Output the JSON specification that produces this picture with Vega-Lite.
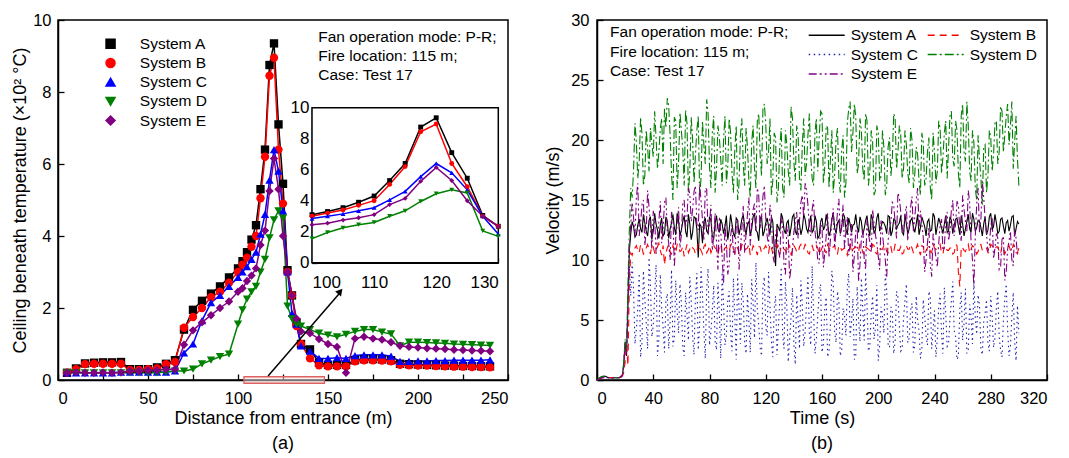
{
"$schema": "https://vega.github.io/schema/vega-lite/v6.json",
"background": "white",
"padding": {"left": 10, "top": 11, "right": 5, "bottom": 5},
"config": {
  "font": "Liberation Sans",
  "view": {"stroke": "black", "strokeWidth": 1.5},
  "axis": {"domainColor": "black", "domainWidth": 1.5, "tickColor": "black", "tickWidth": 1.3, "labelColor": "black", "titleColor": "black", "labelFontSize": 16.5, "titleFontSize": 18, "titleFontWeight": "normal", "grid": false, "labelFont": "Liberation Sans", "titleFont": "Liberation Sans", "labelOverlap": false},
  "legend": {"padding": 0, "labelFont": "Liberation Sans", "labelColor": "black"},
  "title": {"fontSize": 18, "fontWeight": "normal", "color": "black", "font": "Liberation Sans"}
},
"datasets": {
  "temp": [
    {"d":5,"A":0.2,"B":0.2,"C":0.2,"D":0.2,"E":0.2},
    {"d":10,"A":0.32,"B":0.3,"C":0.2,"D":0.2,"E":0.22},
    {"d":15,"A":0.46,"B":0.44,"C":0.2,"D":0.2,"E":0.2},
    {"d":20,"A":0.48,"B":0.45,"C":0.2,"D":0.2,"E":0.2},
    {"d":25,"A":0.49,"B":0.45,"C":0.2,"D":0.2,"E":0.21},
    {"d":30,"A":0.49,"B":0.45,"C":0.2,"D":0.2,"E":0.2},
    {"d":35,"A":0.5,"B":0.45,"C":0.22,"D":0.2,"E":0.21},
    {"d":40,"A":0.3,"B":0.28,"C":0.22,"D":0.2,"E":0.25},
    {"d":45,"A":0.3,"B":0.28,"C":0.22,"D":0.2,"E":0.25},
    {"d":50,"A":0.3,"B":0.3,"C":0.22,"D":0.2,"E":0.27},
    {"d":55,"A":0.35,"B":0.32,"C":0.22,"D":0.2,"E":0.27},
    {"d":60,"A":0.45,"B":0.44,"C":0.22,"D":0.22,"E":0.3},
    {"d":65,"A":0.55,"B":0.5,"C":0.25,"D":0.25,"E":0.3},
    {"d":70,"A":1.4,"B":1.45,"C":0.75,"D":0.25,"E":0.98},
    {"d":75,"A":1.95,"B":1.75,"C":1.0,"D":0.3,"E":1.38},
    {"d":80,"A":2.2,"B":2.0,"C":1.65,"D":0.45,"E":1.6},
    {"d":85,"A":2.4,"B":2.3,"C":2.15,"D":0.55,"E":1.8},
    {"d":90,"A":2.6,"B":2.45,"C":2.35,"D":0.65,"E":2.0},
    {"d":95,"A":2.85,"B":2.7,"C":2.6,"D":0.72,"E":2.18},
    {"d":100,"A":3.1,"B":3.0,"C":2.85,"D":1.55,"E":2.45},
    {"d":102.5,"A":3.3,"B":3.2,"C":3.0,"D":1.95,"E":2.55},
    {"d":105,"A":3.55,"B":3.4,"C":3.15,"D":2.25,"E":2.75},
    {"d":107.5,"A":3.9,"B":3.7,"C":3.35,"D":2.45,"E":2.9},
    {"d":110,"A":4.3,"B":4.0,"C":3.55,"D":2.6,"E":3.1},
    {"d":112.5,"A":5.3,"B":5.05,"C":4.05,"D":3.0,"E":3.75},
    {"d":115,"A":6.4,"B":6.2,"C":4.6,"D":3.35,"E":4.15},
    {"d":117.5,"A":8.75,"B":8.45,"C":5.55,"D":3.95,"E":5.25},
    {"d":120,"A":9.35,"B":8.95,"C":6.4,"D":4.45,"E":6.15},
    {"d":122.5,"A":7.1,"B":6.4,"C":5.8,"D":4.7,"E":5.3},
    {"d":125,"A":5.45,"B":4.9,"C":4.7,"D":4.5,"E":4.0},
    {"d":127.5,"A":3.05,"B":3.0,"C":3.0,"D":2.05,"E":3.0},
    {"d":130,"A":2.35,"B":2.35,"C":1.85,"D":1.7,"E":2.35},
    {"d":132.5,"A":1.6,"B":1.5,"C":1.55,"D":1.55,"E":1.7},
    {"d":135,"A":1.0,"B":1.0,"C":0.95,"D":1.5,"E":1.35},
    {"d":140,"A":0.85,"B":0.6,"C":0.8,"D":1.4,"E":1.3},
    {"d":145,"A":0.48,"B":0.41,"C":0.6,"D":1.3,"E":1.14},
    {"d":150,"A":0.42,"B":0.38,"C":0.6,"D":1.25,"E":1.0},
    {"d":155,"A":0.42,"B":0.38,"C":0.62,"D":1.2,"E":0.92},
    {"d":160,"A":0.42,"B":0.38,"C":0.6,"D":1.27,"E":0.2},
    {"d":165,"A":0.55,"B":0.52,"C":0.68,"D":1.35,"E":1.15},
    {"d":170,"A":0.58,"B":0.55,"C":0.7,"D":1.4,"E":1.2},
    {"d":175,"A":0.58,"B":0.55,"C":0.7,"D":1.4,"E":1.15},
    {"d":180,"A":0.57,"B":0.54,"C":0.7,"D":1.33,"E":1.12},
    {"d":185,"A":0.55,"B":0.52,"C":0.66,"D":1.28,"E":1.05},
    {"d":190,"A":0.45,"B":0.42,"C":0.52,"D":0.95,"E":0.95},
    {"d":195,"A":0.44,"B":0.41,"C":0.52,"D":1.05,"E":0.92},
    {"d":200,"A":0.43,"B":0.4,"C":0.53,"D":1.05,"E":0.9},
    {"d":205,"A":0.42,"B":0.4,"C":0.53,"D":1.04,"E":0.88},
    {"d":210,"A":0.41,"B":0.39,"C":0.54,"D":1.03,"E":0.87},
    {"d":215,"A":0.4,"B":0.38,"C":0.54,"D":1.02,"E":0.86},
    {"d":220,"A":0.4,"B":0.37,"C":0.55,"D":1.0,"E":0.84},
    {"d":225,"A":0.39,"B":0.37,"C":0.55,"D":0.99,"E":0.83},
    {"d":230,"A":0.39,"B":0.36,"C":0.55,"D":0.98,"E":0.82},
    {"d":235,"A":0.38,"B":0.36,"C":0.55,"D":0.97,"E":0.81},
    {"d":240,"A":0.38,"B":0.35,"C":0.56,"D":0.96,"E":0.8}
  ],
  "vel": [
    {"t":0,"A":0,"B":0,"C":0,"D":0,"E":0},
    {"t":2,"A":0.2,"B":0.1,"C":0.1,"D":0.2,"E":0.1},
    {"t":4,"A":0.3,"B":0.2,"C":0.2,"D":0.3,"E":0.2},
    {"t":6,"A":0.3,"B":0.3,"C":0.2,"D":0.3,"E":0.2},
    {"t":8,"A":0.2,"B":0.2,"C":0.2,"D":0.2,"E":0.2},
    {"t":10,"A":0.2,"B":0.2,"C":0.1,"D":0.2,"E":0.2},
    {"t":12,"A":0.2,"B":0.2,"C":0.2,"D":0.2,"E":0.2},
    {"t":14,"A":0.2,"B":0.2,"C":0.2,"D":0.2,"E":0.2},
    {"t":16,"A":0.2,"B":0.2,"C":0.2,"D":0.2,"E":0.2},
    {"t":18,"A":0.4,"B":0.3,"C":0.3,"D":0.4,"E":0.4},
    {"t":19,"A":1.2,"B":0.6,"C":1.0,"D":1.5,"E":1.2},
    {"t":20,"A":3.2,"B":1.5,"C":2.8,"D":3.4,"E":3.0},
    {"t":21,"A":2.0,"B":3.0,"C":2.4,"D":2.6,"E":2.2},
    {"t":22,"A":6.5,"B":1.2,"C":5.5,"D":8.0,"E":6.0},
    {"t":23,"A":10.8,"B":8.0,"C":9.5,"D":12.5,"E":11.0},
    {"t":24,"A":12.2,"B":10.6,"C":7.0,"D":16.0,"E":13.0},
    {"t":26,"A":12.8,"B":10.9,"C":7.5,"D":17.5,"E":13.5},
    {"t":28,"A":12.1,"B":11.2,"C":4.2,"D":19.8,"E":15.2},
    {"t":30,"A":13.4,"B":10.6,"C":8.9,"D":18.2,"E":12.0},
    {"t":32,"A":12.3,"B":11.0,"C":3.1,"D":20.5,"E":14.6},
    {"t":34,"A":13.1,"B":10.7,"C":6.8,"D":17.0,"E":11.2},
    {"t":36,"A":12.0,"B":11.3,"C":2.6,"D":19.4,"E":15.8},
    {"t":38,"A":13.6,"B":10.5,"C":7.9,"D":21.0,"E":12.8},
    {"t":40,"A":12.4,"B":11.1,"C":4.5,"D":18.6,"E":14.1},
    {"t":42,"A":13.0,"B":10.8,"C":9.6,"D":20.2,"E":10.5},
    {"t":44,"A":11.8,"B":11.4,"C":3.4,"D":19.0,"E":13.2},
    {"t":46,"A":13.5,"B":10.4,"C":6.1,"D":21.8,"E":11.4},
    {"t":48,"A":12.2,"B":9.6,"C":2.3,"D":22.6,"E":14.8},
    {"t":50,"A":13.2,"B":11.0,"C":7.2,"D":23.5,"E":12.3},
    {"t":52,"A":12.6,"B":10.7,"C":4.9,"D":20.4,"E":10.0},
    {"t":54,"A":13.8,"B":11.2,"C":2.8,"D":15.0,"E":13.7},
    {"t":56,"A":12.1,"B":10.6,"C":8.3,"D":21.6,"E":11.8},
    {"t":58,"A":13.3,"B":11.1,"C":3.9,"D":18.0,"E":14.4},
    {"t":60,"A":12.5,"B":10.8,"C":6.4,"D":20.8,"E":12.1},
    {"t":62,"A":13.7,"B":10.3,"C":2.0,"D":16.2,"E":15.0},
    {"t":64,"A":11.9,"B":11.3,"C":5.5,"D":21.4,"E":13.6},
    {"t":66,"A":13.0,"B":10.9,"C":8.6,"D":17.4,"E":15.5},
    {"t":68,"A":12.3,"B":11.0,"C":3.6,"D":20.0,"E":14.2},
    {"t":70,"A":13.5,"B":10.5,"C":6.9,"D":18.8,"E":16.2},
    {"t":72,"A":10.2,"B":11.4,"C":2.5,"D":22.0,"E":12.5},
    {"t":74,"A":12.8,"B":10.8,"C":9.4,"D":16.8,"E":14.9},
    {"t":76,"A":13.2,"B":11.1,"C":4.1,"D":19.6,"E":11.6},
    {"t":78,"A":12.4,"B":10.6,"C":7.6,"D":23.4,"E":15.9},
    {"t":80,"A":13.6,"B":11.2,"C":2.9,"D":17.8,"E":13.0},
    {"t":82,"A":12.0,"B":10.9,"C":5.8,"D":20.6,"E":10.8},
    {"t":84,"A":13.1,"B":11.0,"C":3.2,"D":15.6,"E":13.9},
    {"t":86,"A":12.6,"B":10.4,"C":8.1,"D":21.2,"E":9.2},
    {"t":88,"A":13.4,"B":11.3,"C":1.8,"D":18.4,"E":12.4},
    {"t":90,"A":12.2,"B":10.7,"C":6.3,"D":20.0,"E":8.0},
    {"t":92,"A":13.7,"B":11.1,"C":3.7,"D":16.4,"E":11.5},
    {"t":94,"A":12.5,"B":10.8,"C":7.4,"D":21.8,"E":9.6},
    {"t":96,"A":13.0,"B":11.4,"C":2.4,"D":17.2,"E":12.9},
    {"t":98,"A":11.9,"B":10.6,"C":5.2,"D":19.2,"E":10.4},
    {"t":100,"A":13.3,"B":11.0,"C":8.8,"D":15.0,"E":13.4},
    {"t":102,"A":12.7,"B":10.5,"C":3.0,"D":20.4,"E":11.0},
    {"t":104,"A":13.8,"B":11.2,"C":6.6,"D":18.0,"E":14.5},
    {"t":106,"A":12.1,"B":10.9,"C":2.2,"D":21.0,"E":12.2},
    {"t":108,"A":13.2,"B":11.3,"C":5.0,"D":16.6,"E":15.2},
    {"t":110,"A":12.6,"B":10.7,"C":8.4,"D":19.8,"E":13.1},
    {"t":112,"A":13.9,"B":11.0,"C":3.5,"D":17.6,"E":14.7},
    {"t":114,"A":12.3,"B":10.4,"C":6.0,"D":21.6,"E":16.0},
    {"t":116,"A":13.4,"B":11.1,"C":2.7,"D":18.8,"E":12.6},
    {"t":118,"A":12.0,"B":10.8,"C":7.8,"D":22.6,"E":15.3},
    {"t":120,"A":13.1,"B":11.2,"C":4.4,"D":21.4,"E":13.5},
    {"t":122,"A":12.8,"B":10.6,"C":9.0,"D":19.0,"E":11.2},
    {"t":124,"A":13.6,"B":11.0,"C":3.3,"D":15.4,"E":13.8},
    {"t":126,"A":11.0,"B":10.9,"C":5.9,"D":20.6,"E":9.8},
    {"t":128,"A":13.0,"B":11.3,"C":2.1,"D":14.8,"E":12.7},
    {"t":130,"A":12.4,"B":10.5,"C":6.7,"D":19.4,"E":10.2},
    {"t":132,"A":13.5,"B":11.1,"C":3.8,"D":16.0,"E":12.9},
    {"t":134,"A":12.2,"B":10.8,"C":8.2,"D":20.8,"E":8.8},
    {"t":136,"A":13.3,"B":11.0,"C":1.5,"D":17.4,"E":11.9},
    {"t":138,"A":12.7,"B":10.4,"C":5.3,"D":22.8,"E":9.4},
    {"t":140,"A":13.8,"B":11.2,"C":3.0,"D":18.2,"E":12.3},
    {"t":142,"A":12.1,"B":10.7,"C":7.1,"D":21.2,"E":14.0},
    {"t":144,"A":13.0,"B":11.1,"C":2.6,"D":16.8,"E":13.3},
    {"t":146,"A":12.6,"B":10.9,"C":6.2,"D":19.6,"E":15.4},
    {"t":148,"A":13.4,"B":11.3,"C":4.0,"D":17.0,"E":16.4},
    {"t":150,"A":12.3,"B":10.6,"C":8.7,"D":20.4,"E":14.6},
    {"t":152,"A":13.7,"B":11.0,"C":2.9,"D":18.6,"E":12.0},
    {"t":154,"A":12.5,"B":10.8,"C":5.6,"D":16.2,"E":15.0},
    {"t":156,"A":13.2,"B":11.2,"C":3.4,"D":21.8,"E":11.4},
    {"t":158,"A":12.0,"B":10.5,"C":7.3,"D":20.2,"E":9.7},
    {"t":160,"A":13.5,"B":11.0,"C":2.3,"D":22.2,"E":12.8},
    {"t":162,"A":12.8,"B":10.7,"C":6.0,"D":17.8,"E":10.6},
    {"t":164,"A":13.1,"B":11.3,"C":1.9,"D":21.0,"E":13.9},
    {"t":166,"A":12.4,"B":10.9,"C":4.7,"D":18.4,"E":11.7},
    {"t":168,"A":13.9,"B":11.1,"C":8.0,"D":15.6,"E":14.3},
    {"t":170,"A":12.2,"B":10.6,"C":3.1,"D":20.0,"E":12.5},
    {"t":172,"A":13.3,"B":11.2,"C":6.5,"D":16.8,"E":15.1},
    {"t":174,"A":12.7,"B":10.8,"C":2.5,"D":19.2,"E":13.0},
    {"t":176,"A":13.6,"B":11.0,"C":5.4,"D":15.2,"E":10.9},
    {"t":178,"A":12.1,"B":10.4,"C":7.7,"D":21.4,"E":13.6},
    {"t":180,"A":13.0,"B":11.3,"C":3.6,"D":23.2,"E":11.3},
    {"t":182,"A":12.9,"B":10.9,"C":6.8,"D":20.6,"E":9.0},
    {"t":184,"A":13.8,"B":11.1,"C":2.0,"D":22.0,"E":12.4},
    {"t":186,"A":12.3,"B":10.7,"C":5.1,"D":18.0,"E":8.2},
    {"t":188,"A":13.2,"B":11.2,"C":8.5,"D":20.8,"E":11.8},
    {"t":190,"A":12.6,"B":10.5,"C":3.3,"D":16.6,"E":10.1},
    {"t":192,"A":13.7,"B":11.0,"C":6.3,"D":21.6,"E":13.4},
    {"t":194,"A":12.0,"B":10.8,"C":2.8,"D":17.4,"E":11.5},
    {"t":196,"A":13.4,"B":11.3,"C":7.0,"D":19.8,"E":14.2},
    {"t":198,"A":12.5,"B":10.6,"C":4.3,"D":15.8,"E":12.1},
    {"t":200,"A":13.9,"B":11.1,"C":1.6,"D":20.6,"E":10.3},
    {"t":202,"A":12.8,"B":10.9,"C":6.1,"D":17.0,"E":13.3},
    {"t":204,"A":13.1,"B":11.2,"C":3.9,"D":19.4,"E":11.0},
    {"t":206,"A":12.2,"B":10.7,"C":7.5,"D":16.2,"E":8.5},
    {"t":208,"A":13.6,"B":11.0,"C":2.7,"D":20.2,"E":12.6},
    {"t":210,"A":12.4,"B":10.5,"C":5.7,"D":18.4,"E":14.8},
    {"t":212,"A":13.3,"B":11.3,"C":3.2,"D":21.8,"E":13.1},
    {"t":214,"A":12.9,"B":10.8,"C":6.9,"D":19.0,"E":15.6},
    {"t":216,"A":13.7,"B":11.1,"C":2.4,"D":20.4,"E":14.0},
    {"t":218,"A":12.1,"B":10.6,"C":5.2,"D":17.6,"E":12.2},
    {"t":220,"A":13.0,"B":11.2,"C":8.0,"D":19.6,"E":14.5},
    {"t":222,"A":12.6,"B":10.9,"C":3.5,"D":16.4,"E":12.8},
    {"t":224,"A":13.5,"B":11.0,"C":6.4,"D":20.0,"E":15.3},
    {"t":226,"A":12.3,"B":10.7,"C":2.9,"D":17.2,"E":13.6},
    {"t":228,"A":13.8,"B":11.3,"C":5.0,"D":18.8,"E":16.0},
    {"t":230,"A":12.7,"B":10.4,"C":1.8,"D":15.4,"E":14.1},
    {"t":232,"A":13.2,"B":11.1,"C":6.7,"D":19.8,"E":11.9},
    {"t":234,"A":12.0,"B":10.8,"C":3.7,"D":16.8,"E":10.0},
    {"t":236,"A":13.4,"B":11.2,"C":7.4,"D":20.2,"E":12.7},
    {"t":238,"A":12.5,"B":10.6,"C":2.6,"D":15.0,"E":8.6},
    {"t":240,"A":13.6,"B":11.0,"C":5.8,"D":19.0,"E":11.2},
    {"t":242,"A":12.8,"B":10.9,"C":3.4,"D":17.4,"E":9.4},
    {"t":244,"A":13.1,"B":11.3,"C":7.2,"D":21.0,"E":12.9},
    {"t":246,"A":12.2,"B":10.5,"C":2.2,"D":18.6,"E":10.8},
    {"t":248,"A":13.7,"B":11.1,"C":5.5,"D":21.6,"E":13.5},
    {"t":250,"A":12.4,"B":10.8,"C":3.0,"D":19.4,"E":11.6},
    {"t":252,"A":13.3,"B":11.0,"C":6.6,"D":22.4,"E":14.2},
    {"t":254,"A":12.9,"B":10.6,"C":4.1,"D":17.8,"E":12.0},
    {"t":256,"A":13.5,"B":11.2,"C":1.7,"D":20.8,"E":14.9},
    {"t":258,"A":12.1,"B":7.8,"C":5.9,"D":16.0,"E":12.4},
    {"t":260,"A":13.0,"B":11.0,"C":3.3,"D":23.0,"E":15.4},
    {"t":262,"A":12.6,"B":10.7,"C":7.6,"D":18.2,"E":13.2},
    {"t":264,"A":13.8,"B":11.3,"C":2.5,"D":21.2,"E":15.8},
    {"t":266,"A":12.3,"B":10.9,"C":5.3,"D":16.6,"E":11.5},
    {"t":268,"A":13.4,"B":11.1,"C":8.3,"D":19.8,"E":7.8},
    {"t":270,"A":12.7,"B":10.5,"C":3.8,"D":15.0,"E":14.6},
    {"t":272,"A":13.2,"B":11.2,"C":6.2,"D":18.4,"E":12.3},
    {"t":274,"A":12.0,"B":10.8,"C":2.1,"D":14.6,"E":16.6},
    {"t":276,"A":13.6,"B":11.0,"C":5.6,"D":19.6,"E":13.4},
    {"t":278,"A":12.5,"B":10.6,"C":3.1,"D":17.0,"E":10.7},
    {"t":280,"A":13.9,"B":11.3,"C":7.0,"D":20.2,"E":12.8},
    {"t":282,"A":12.8,"B":10.9,"C":2.7,"D":18.8,"E":10.1},
    {"t":284,"A":13.1,"B":11.1,"C":6.0,"D":21.6,"E":12.2},
    {"t":286,"A":12.4,"B":10.7,"C":3.6,"D":19.0,"E":9.2},
    {"t":288,"A":13.5,"B":11.2,"C":1.9,"D":22.4,"E":11.7},
    {"t":290,"A":12.2,"B":10.5,"C":6.8,"D":20.4,"E":8.3},
    {"t":292,"A":13.3,"B":11.0,"C":4.2,"D":23.0,"E":10.9},
    {"t":294,"A":12.9,"B":10.8,"C":2.8,"D":21.2,"E":12.4},
    {"t":296,"A":13.7,"B":11.3,"C":7.3,"D":17.6,"E":9.5},
    {"t":298,"A":12.6,"B":10.6,"C":1.6,"D":22.0,"E":11.8},
    {"t":300,"A":13.0,"B":11.0,"C":3.9,"D":16.2,"E":10.6},
    {"t":25,"A":13.2,"B":10.4,"C":9.8,"D":15.2,"E":14.8},
    {"t":27,"A":11.9,"B":11.0,"C":3.0,"D":21.4,"E":12.0},
    {"t":29,"A":12.9,"B":10.8,"C":6.0,"D":16.8,"E":16.4},
    {"t":31,"A":12.6,"B":11.3,"C":1.9,"D":21.9,"E":13.1},
    {"t":33,"A":13.8,"B":10.5,"C":9.1,"D":16.2,"E":15.0},
    {"t":35,"A":12.4,"B":11.0,"C":4.8,"D":20.8,"E":12.4},
    {"t":37,"A":13.3,"B":10.9,"C":10.2,"D":17.4,"E":14.4},
    {"t":39,"A":11.7,"B":11.2,"C":3.6,"D":19.7,"E":10.9},
    {"t":41,"A":13.9,"B":10.6,"C":7.0,"D":22.4,"E":13.5},
    {"t":43,"A":12.5,"B":11.1,"C":2.0,"D":17.6,"E":11.8},
    {"t":45,"A":12.9,"B":10.8,"C":8.8,"D":20.9,"E":14.9},
    {"t":47,"A":12.0,"B":11.2,"C":4.4,"D":18.0,"E":12.6},
    {"t":49,"A":13.6,"B":10.6,"C":6.5,"D":21.0,"E":15.2},
    {"t":51,"A":11.8,"B":11.3,"C":2.6,"D":22.8,"E":11.4},
    {"t":53,"A":13.1,"B":10.5,"C":9.2,"D":17.2,"E":14.0},
    {"t":55,"A":12.7,"B":10.9,"C":3.5,"D":21.9,"E":9.4},
    {"t":57,"A":13.9,"B":11.3,"C":5.7,"D":16.0,"E":13.0},
    {"t":59,"A":12.0,"B":10.7,"C":8.0,"D":22.3,"E":11.0},
    {"t":61,"A":13.2,"B":11.1,"C":2.7,"D":19.2,"E":14.7},
    {"t":63,"A":12.4,"B":10.8,"C":7.3,"D":22.5,"E":12.8},
    {"t":65,"A":13.8,"B":10.6,"C":3.3,"D":15.6,"E":16.0},
    {"t":67,"A":11.7,"B":11.2,"C":6.6,"D":21.9,"E":13.2},
    {"t":69,"A":13.6,"B":10.9,"C":2.1,"D":16.4,"E":15.7},
    {"t":71,"A":12.6,"B":10.7,"C":8.9,"D":20.8,"E":13.0},
    {"t":73,"A":13.0,"B":11.0,"C":4.6,"D":15.4,"E":16.3},
    {"t":75,"A":11.4,"B":10.5,"C":7.1,"D":21.6,"E":13.4},
    {"t":77,"A":13.5,"B":11.3,"C":1.8,"D":18.0,"E":16.0},
    {"t":79,"A":12.2,"B":10.8,"C":9.3,"D":22.2,"E":12.2},
    {"t":81,"A":13.3,"B":10.6,"C":4.0,"D":16.0,"E":14.6},
    {"t":83,"A":11.8,"B":11.2,"C":7.9,"D":22.0,"E":12.0},
    {"t":85,"A":13.7,"B":10.9,"C":2.5,"D":17.6,"E":11.4},
    {"t":87,"A":12.3,"B":11.1,"C":5.6,"D":20.2,"E":13.6},
    {"t":89,"A":13.0,"B":10.5,"C":9.0,"D":16.2,"E":10.2},
    {"t":91,"A":12.8,"B":11.0,"C":2.9,"D":22.0,"E":13.0},
    {"t":93,"A":11.7,"B":10.7,"C":6.7,"D":17.8,"E":8.8},
    {"t":95,"A":13.8,"B":11.2,"C":3.9,"D":20.6,"E":12.0},
    {"t":97,"A":12.2,"B":10.9,"C":8.5,"D":15.6,"E":10.5},
    {"t":99,"A":13.5,"B":11.1,"C":1.7,"D":21.2,"E":12.8},
    {"t":101,"A":12.1,"B":10.6,"C":5.9,"D":16.4,"E":9.2},
    {"t":103,"A":13.4,"B":11.3,"C":8.1,"D":21.8,"E":12.6},
    {"t":105,"A":12.7,"B":10.8,"C":3.1,"D":16.2,"E":10.6},
    {"t":107,"A":13.0,"B":11.0,"C":7.2,"D":19.4,"E":13.8},
    {"t":109,"A":12.0,"B":10.4,"C":2.3,"D":15.2,"E":11.2},
    {"t":111,"A":13.6,"B":11.2,"C":6.5,"D":21.2,"E":14.2},
    {"t":113,"A":12.5,"B":10.9,"C":9.8,"D":16.0,"E":12.4},
    {"t":115,"A":11.6,"B":11.1,"C":4.6,"D":22.2,"E":15.4},
    {"t":117,"A":13.7,"B":10.6,"C":2.0,"D":17.0,"E":13.6},
    {"t":119,"A":12.4,"B":11.0,"C":8.6,"D":23.0,"E":16.2},
    {"t":121,"A":13.5,"B":10.8,"C":3.7,"D":18.0,"E":12.0},
    {"t":123,"A":12.1,"B":11.3,"C":6.2,"D":21.8,"E":14.6},
    {"t":125,"A":13.2,"B":10.6,"C":1.9,"D":16.6,"E":10.4},
    {"t":127,"A":9.5,"B":11.1,"C":7.0,"D":20.2,"E":12.2},
    {"t":129,"A":12.7,"B":10.7,"C":4.4,"D":16.0,"E":10.8},
    {"t":131,"A":13.9,"B":11.2,"C":9.4,"D":21.0,"E":13.6},
    {"t":133,"A":12.5,"B":10.9,"C":2.6,"D":15.2,"E":9.6},
    {"t":135,"A":13.1,"B":10.5,"C":6.1,"D":19.6,"E":12.8},
    {"t":137,"A":12.0,"B":11.2,"C":3.4,"D":16.2,"E":8.4},
    {"t":139,"A":13.6,"B":10.8,"C":7.7,"D":21.8,"E":11.0},
    {"t":141,"A":12.4,"B":11.0,"C":1.3,"D":16.6,"E":13.2},
    {"t":143,"A":13.4,"B":10.6,"C":5.0,"D":20.4,"E":11.8},
    {"t":145,"A":12.1,"B":11.3,"C":8.3,"D":15.8,"E":14.8},
    {"t":147,"A":13.8,"B":10.9,"C":2.8,"D":21.8,"E":13.4},
    {"t":149,"A":12.6,"B":11.1,"C":6.4,"D":18.0,"E":15.8},
    {"t":151,"A":13.0,"B":10.5,"C":3.9,"D":22.2,"E":12.6},
    {"t":153,"A":12.3,"B":11.2,"C":9.5,"D":16.8,"E":14.2},
    {"t":155,"A":13.7,"B":10.8,"C":2.2,"D":20.6,"E":12.4},
    {"t":157,"A":11.8,"B":11.0,"C":5.4,"D":17.4,"E":10.0},
    {"t":159,"A":13.2,"B":10.7,"C":8.0,"D":22.4,"E":13.2},
    {"t":161,"A":12.5,"B":11.3,"C":3.0,"D":16.4,"E":9.4},
    {"t":163,"A":13.8,"B":10.6,"C":6.9,"D":21.2,"E":12.0},
    {"t":165,"A":12.0,"B":11.0,"C":2.4,"D":16.0,"E":10.2},
    {"t":167,"A":13.4,"B":10.8,"C":9.1,"D":20.8,"E":13.4},
    {"t":169,"A":12.7,"B":11.2,"C":4.0,"D":17.2,"E":11.0},
    {"t":171,"A":13.1,"B":10.5,"C":7.4,"D":21.0,"E":14.0},
    {"t":173,"A":12.2,"B":11.1,"C":2.0,"D":15.6,"E":12.0},
    {"t":175,"A":13.9,"B":10.9,"C":6.0,"D":20.4,"E":14.6},
    {"t":177,"A":12.6,"B":10.7,"C":3.7,"D":16.4,"E":12.4},
    {"t":179,"A":13.5,"B":11.2,"C":8.9,"D":22.6,"E":10.4},
    {"t":181,"A":12.3,"B":10.6,"C":4.8,"D":19.0,"E":13.0},
    {"t":183,"A":13.0,"B":11.0,"C":1.7,"D":23.0,"E":10.4},
    {"t":185,"A":12.8,"B":10.8,"C":7.8,"D":17.2,"E":12.8},
    {"t":187,"A":13.6,"B":11.3,"C":3.2,"D":21.8,"E":9.6},
    {"t":189,"A":12.1,"B":10.6,"C":5.9,"D":17.6,"E":12.6},
    {"t":191,"A":13.3,"B":11.1,"C":9.0,"D":22.2,"E":9.2},
    {"t":193,"A":12.6,"B":10.9,"C":2.4,"D":16.2,"E":12.2},
    {"t":195,"A":13.8,"B":10.7,"C":5.6,"D":20.8,"E":10.6},
    {"t":197,"A":12.2,"B":11.2,"C":3.4,"D":15.4,"E":13.0},
    {"t":199,"A":13.5,"B":10.5,"C":7.9,"D":21.2,"E":11.4},
    {"t":201,"A":12.4,"B":11.0,"C":2.9,"D":16.6,"E":9.2},
    {"t":203,"A":13.2,"B":10.9,"C":5.4,"D":20.8,"E":12.2},
    {"t":205,"A":12.8,"B":11.3,"C":8.8,"D":15.4,"E":10.0},
    {"t":207,"A":13.7,"B":10.6,"C":3.0,"D":19.4,"E":11.6},
    {"t":209,"A":12.0,"B":11.1,"C":6.1,"D":17.0,"E":13.2},
    {"t":211,"A":13.4,"B":10.7,"C":2.2,"D":22.2,"E":14.6},
    {"t":213,"A":12.6,"B":11.2,"C":7.4,"D":17.6,"E":11.8},
    {"t":215,"A":13.1,"B":10.8,"C":4.5,"D":21.2,"E":15.2},
    {"t":217,"A":12.3,"B":10.5,"C":2.6,"D":16.8,"E":12.8},
    {"t":219,"A":13.8,"B":11.1,"C":6.6,"D":20.8,"E":13.8},
    {"t":221,"A":12.2,"B":10.9,"C":3.1,"D":17.2,"E":11.6},
    {"t":223,"A":13.3,"B":11.3,"C":5.8,"D":21.0,"E":14.4},
    {"t":225,"A":12.7,"B":10.6,"C":2.3,"D":16.0,"E":12.4},
    {"t":227,"A":13.0,"B":11.0,"C":7.0,"D":19.4,"E":15.0},
    {"t":229,"A":12.1,"B":10.8,"C":4.1,"D":16.6,"E":12.8},
    {"t":231,"A":13.6,"B":11.2,"C":2.6,"D":20.6,"E":13.0},
    {"t":233,"A":12.8,"B":10.5,"C":5.4,"D":16.2,"E":9.0},
    {"t":235,"A":13.2,"B":11.0,"C":2.9,"D":19.0,"E":11.4},
    {"t":237,"A":12.4,"B":10.7,"C":6.9,"D":16.0,"E":9.6},
    {"t":239,"A":13.9,"B":11.3,"C":4.2,"D":20.6,"E":12.2},
    {"t":241,"A":12.1,"B":10.9,"C":1.9,"D":16.4,"E":10.2},
    {"t":243,"A":13.5,"B":11.1,"C":6.1,"D":21.6,"E":11.4},
    {"t":245,"A":12.7,"B":10.6,"C":3.9,"D":17.2,"E":13.4},
    {"t":247,"A":13.0,"B":11.2,"C":7.7,"D":20.6,"E":11.0},
    {"t":249,"A":12.3,"B":10.8,"C":2.8,"D":16.8,"E":14.0},
    {"t":251,"A":13.6,"B":11.0,"C":5.1,"D":22.0,"E":12.4},
    {"t":253,"A":12.2,"B":10.5,"C":8.2,"D":18.4,"E":15.0},
    {"t":255,"A":13.4,"B":11.3,"C":3.6,"D":21.6,"E":13.0},
    {"t":257,"A":12.8,"B":9.0,"C":2.0,"D":17.2,"E":14.6},
    {"t":259,"A":13.7,"B":11.1,"C":7.3,"D":22.0,"E":11.6},
    {"t":261,"A":12.0,"B":10.8,"C":4.7,"D":19.0,"E":14.2},
    {"t":263,"A":13.2,"B":11.0,"C":2.2,"D":23.2,"E":12.4},
    {"t":265,"A":12.6,"B":10.6,"C":6.3,"D":17.4,"E":14.8},
    {"t":267,"A":13.9,"B":11.2,"C":3.0,"D":20.8,"E":10.0},
    {"t":269,"A":12.4,"B":10.9,"C":5.2,"D":16.0,"E":12.0},
    {"t":271,"A":13.3,"B":10.7,"C":7.1,"D":20.4,"E":16.0},
    {"t":273,"A":12.7,"B":11.3,"C":2.6,"D":16.8,"E":13.4},
    {"t":275,"A":13.0,"B":10.8,"C":4.8,"D":19.4,"E":15.2},
    {"t":277,"A":12.1,"B":11.0,"C":6.7,"D":15.6,"E":12.2},
    {"t":279,"A":13.6,"B":10.6,"C":2.4,"D":20.8,"E":11.2},
    {"t":281,"A":12.5,"B":11.2,"C":5.3,"D":17.4,"E":13.6},
    {"t":283,"A":13.8,"B":10.9,"C":3.5,"D":21.4,"E":11.0},
    {"t":285,"A":12.2,"B":11.1,"C":7.4,"D":18.0,"E":11.8},
    {"t":287,"A":13.4,"B":10.5,"C":2.5,"D":22.8,"E":9.4},
    {"t":289,"A":12.8,"B":11.0,"C":5.0,"D":19.0,"E":12.0},
    {"t":291,"A":13.1,"B":10.8,"C":8.0,"D":22.0,"E":9.0},
    {"t":293,"A":12.4,"B":11.2,"C":2.0,"D":19.6,"E":11.6},
    {"t":295,"A":13.6,"B":10.7,"C":5.3,"D":23.2,"E":10.0},
    {"t":297,"A":12.0,"B":11.1,"C":3.2,"D":19.8,"E":12.6},
    {"t":299,"A":13.2,"B":10.6,"C":6.2,"D":18.4,"E":10.4}
  ]
},
"spacing": 33,
"resolve": {
  "scale": {"color": "independent", "shape": "independent", "strokeDash": "independent"},
  "legend": {"color": "independent", "shape": "independent", "strokeDash": "independent"}
},
"hconcat": [
  {
    "width": 450,
    "height": 360,
    "title": {"text": "(a)", "orient": "bottom", "frame": "group", "offset": 7},
    "resolve": {"scale": {"x": "independent", "y": "independent"}, "axis": {"x": "independent", "y": "independent"}},
    "layer": [
      {
        "layer": [
          {
            "data": {"name": "temp"},
            "transform": [{"fold": ["A", "B", "C", "D", "E"], "as": ["key", "v"]}],
            "mark": {"type": "line", "strokeWidth": 1.5},
            "encoding": {
              "x": {"field": "d", "type": "quantitative", "scale": {"domain": [0, 250], "nice": false, "zero": false},
                    "axis": {"title": "Distance from entrance (m)", "values": [0,25,50,75,100,125,150,175,200,225,250],
                             "labelExpr": "datum.value % 50 === 0 ? datum.label : ''", "labelOverlap": false,
                             "tickSize": -6, "labelPadding": 16, "titlePadding": 3}},
              "y": {"field": "v", "type": "quantitative", "scale": {"domain": [0, 10], "nice": false},
                    "axis": {"title": "Ceiling beneath temperature (×10² °C)", "values": [0,1,2,3,4,5,6,7,8,9,10],
                             "labelOverlap": false, "format": "d",
                             "tickSize": -6, "labelPadding": 13, "titlePadding": 3}},
              "color": {"field": "key", "type": "nominal", "scale": {"domain": ["A", "B", "C", "D", "E"], "range": ["#000000", "#ff0000", "#0000ff", "#008000", "#800080"]}}
            }
          },
          {
            "data": {"name": "temp"},
            "transform": [{"fold": ["A", "B", "C", "D", "E"], "as": ["key", "v"]}],
            "mark": {"type": "point", "filled": true, "size": 70, "opacity": 1},
            "encoding": {
              "x": {"field": "d", "type": "quantitative", "scale": {"domain": [0, 250], "nice": false, "zero": false}},
              "y": {"field": "v", "type": "quantitative", "scale": {"domain": [0, 10], "nice": false}},
              "order": {"field": "key"},
              "color": {"field": "key", "type": "nominal", "scale": {"domain": ["A", "B", "C", "D", "E"], "range": ["#000000", "#ff0000", "#0000ff", "#008000", "#800080"]},
                        "legend": {"orient": "none", "legendX": 44.8, "legendY": 16, "title": null, "labelFontSize": 15.5, "labelExpr": "'System ' + datum.label",
                                   "symbolSize": 81, "labelOffset": 21.5, "rowPadding": 2.2, "symbolStrokeWidth": 1.5}},
              "shape": {"field": "key", "type": "nominal", "scale": {"domain": ["A", "B", "C", "D", "E"], "range": ["square", "circle", "triangle-up", "triangle-down", "diamond"]}, "legend": null}
            }
          },
          {
            "data": {"values": [
              {"label": "Fan operation mode: P-R;", "tx": 144.6, "ty": 9.53},
              {"label": "Fire location: 115 m;", "tx": 144.6, "ty": 9.0},
              {"label": "Case: Test 17", "tx": 144.6, "ty": 8.47}
            ]},
            "mark": {"type": "text", "align": "left", "baseline": "middle", "fontSize": 15.5, "color": "black"},
            "encoding": {
              "x": {"field": "tx", "type": "quantitative", "scale": {"domain": [0, 250], "nice": false, "zero": false}},
              "y": {"field": "ty", "type": "quantitative", "scale": {"domain": [0, 10], "nice": false}},
              "text": {"field": "label"}
            }
          },
          {
            "data": {"values": [{"x0": 103.3, "x1": 148, "y0": -0.09, "y1": 0.09}]},
            "mark": {"type": "rect", "fill": "#f3e6e6", "fillOpacity": 0.5, "stroke": "#e06060", "strokeWidth": 1.3},
            "encoding": {
              "x": {"field": "x0", "type": "quantitative", "scale": {"domain": [0, 250], "nice": false, "zero": false}},
              "x2": {"field": "x1"},
              "y": {"field": "y0", "type": "quantitative", "scale": {"domain": [0, 10], "nice": false}},
              "y2": {"field": "y1"}
            }
          },
          {
            "data": {"values": [{"x0": 116.7, "y0": 0.11, "x1": 156.3, "y1": 2.4}]},
            "mark": {"type": "rule", "color": "black", "strokeWidth": 1.5},
            "encoding": {
              "x": {"field": "x0", "type": "quantitative", "scale": {"domain": [0, 250], "nice": false, "zero": false}},
              "x2": {"field": "x1"},
              "y": {"field": "y0", "type": "quantitative", "scale": {"domain": [0, 10], "nice": false}},
              "y2": {"field": "y1"}
            }
          },
          {
            "data": {"values": [{"x0": 156.8, "y0": 2.46}]},
            "mark": {"type": "point", "shape": "triangle-up", "filled": true, "size": 60, "angle": 40, "color": "black", "opacity": 1},
            "encoding": {
              "x": {"field": "x0", "type": "quantitative", "scale": {"domain": [0, 250], "nice": false, "zero": false}},
              "y": {"field": "y0", "type": "quantitative", "scale": {"domain": [0, 10], "nice": false}}
            }
          }
        ]
      },
      {
        "layer": [
          {
            "data": {"values": [{"a": 100, "b": 130, "c": 0, "e": 10}]},
            "mark": {"type": "rect", "fill": "white", "stroke": "black", "strokeWidth": 1.5},
            "encoding": {
              "x": {"field": "a", "type": "quantitative", "scale": {"domain": [100, 130], "range": [254, 440.3], "nice": false, "zero": false},
                    "axis": {"orient": "bottom", "offset": -117.3, "title": null, "values": [100,105,110,115,120,125,130],
                             "labelExpr": "datum.value % 10 === 0 ? datum.label : ''", "labelOverlap": false, "tickSize": -5, "labelPadding": 17, "labelFontSize": 17}},
              "x2": {"field": "b"},
              "y": {"field": "c", "type": "quantitative", "scale": {"domain": [0, 10], "range": [242.7, 87.7], "nice": false},
                    "axis": {"orient": "left", "offset": -254, "title": null, "values": [0,1,2,3,4,5,6,7,8,9,10],
                             "labelExpr": "datum.value % 2 === 0 ? datum.label : ''", "labelOverlap": false, "tickSize": -5, "labelPadding": 8, "labelFontSize": 17}},
              "y2": {"field": "e"}
            }
          },
          {
            "data": {"name": "temp"},
            "transform": [{"filter": "datum.d >= 100 && datum.d <= 130"}, {"fold": ["A", "B", "C", "D", "E"], "as": ["key", "v"]}],
            "mark": {"type": "line", "strokeWidth": 1.5},
            "encoding": {
              "x": {"field": "d", "type": "quantitative", "scale": {"domain": [100, 130], "range": [254, 440.3], "nice": false, "zero": false}},
              "y": {"field": "v", "type": "quantitative", "scale": {"domain": [0, 10], "range": [242.7, 87.7], "nice": false}},
              "color": {"field": "key", "type": "nominal", "scale": {"domain": ["A", "B", "C", "D", "E"], "range": ["#000000", "#ff0000", "#0000ff", "#008000", "#800080"]}}
            }
          },
          {
            "data": {"name": "temp"},
            "transform": [{"filter": "datum.d >= 100 && datum.d <= 130"}, {"fold": ["A", "B", "C", "D", "E"], "as": ["key", "v"]}],
            "mark": {"type": "point", "filled": true, "size": 24, "opacity": 1},
            "encoding": {
              "x": {"field": "d", "type": "quantitative", "scale": {"domain": [100, 130], "range": [254, 440.3], "nice": false, "zero": false}},
              "y": {"field": "v", "type": "quantitative", "scale": {"domain": [0, 10], "range": [242.7, 87.7], "nice": false}},
              "order": {"field": "key"},
              "color": {"field": "key", "type": "nominal", "scale": {"domain": ["A", "B", "C", "D", "E"], "range": ["#000000", "#ff0000", "#0000ff", "#008000", "#800080"]}},
              "shape": {"field": "key", "type": "nominal", "scale": {"domain": ["A", "B", "C", "D", "E"], "range": ["square", "circle", "triangle-up", "triangle-down", "diamond"]}, "legend": null}
            }
          }
        ]
      }
    ]
  },
  {
    "width": 450,
    "height": 360,
    "title": {"text": "(b)", "orient": "bottom", "frame": "group", "offset": 7},
    "layer": [
      {
        "data": {"name": "vel"},
        "transform": [{"fold": ["A", "B", "C", "D", "E"], "as": ["key", "v"]}],
        "mark": {"type": "line", "strokeWidth": 1.1, "strokeCap": "butt"},
        "encoding": {
          "x": {"field": "t", "type": "quantitative", "scale": {"domain": [0, 320], "nice": false, "zero": false},
                "axis": {"title": "Time (s)", "values": [0,20,40,60,80,100,120,140,160,180,200,220,240,260,280,300,320],
                         "labelExpr": "datum.value % 40 === 0 ? datum.label : ''", "labelOverlap": false,
                         "tickSize": -6, "labelPadding": 16, "titlePadding": 3}},
          "y": {"field": "v", "type": "quantitative", "scale": {"domain": [0, 30], "nice": false},
                "axis": {"title": "Velocity (m/s)", "values": [0,2.5,5,7.5,10,12.5,15,17.5,20,22.5,25,27.5,30],
                         "labelExpr": "datum.value % 5 === 0 ? datum.label : ''", "labelOverlap": false,
                         "tickSize": -6, "labelPadding": 14, "titlePadding": 8}},
          "color": {"field": "key", "type": "nominal", "scale": {"domain": ["A", "B", "C", "D", "E"], "range": ["#000000", "#ff0000", "#2323b0", "#008000", "#800080"]},
                    "legend": {"orient": "none", "legendX": 210.7, "legendY": 5, "title": null, "labelFontSize": 15.5, "labelExpr": "'System ' + datum.label",
                               "values": ["A", "C", "E", "B", "D"],
                               "symbolType": "M-1,0H3", "symbolSize": 324, "symbolStrokeWidth": 1.6, "columns": 2, "columnPadding": 5, "rowPadding": 0.5, "labelOffset": 23}},
          "strokeDash": {"field": "key", "type": "nominal", "scale": {"domain": ["A", "B", "C", "D", "E"], "range": [[1, 0], [7, 5], [1.5, 3.5], [9, 3, 2, 3], [8, 3, 2, 3, 2, 3]]},
                    "legend": {"orient": "none", "legendX": 210.7, "legendY": 5, "title": null, "labelFontSize": 15.5, "labelExpr": "'System ' + datum.label",
                               "values": ["A", "C", "E", "B", "D"],
                               "symbolType": "M-1,0H3", "symbolSize": 324, "symbolStrokeWidth": 1.6, "columns": 2, "columnPadding": 5, "rowPadding": 0.5, "labelOffset": 23}}
        }
      },
      {
        "data": {"values": [
          {"label": "Fan operation mode: P-R;", "tx": 9.3, "ty": 29.0},
          {"label": "Fire location: 115 m;", "tx": 9.3, "ty": 27.35},
          {"label": "Case: Test 17", "tx": 9.3, "ty": 25.76}
        ]},
        "mark": {"type": "text", "align": "left", "baseline": "middle", "fontSize": 15.5, "color": "black"},
        "encoding": {
          "x": {"field": "tx", "type": "quantitative", "scale": {"domain": [0, 320], "nice": false, "zero": false}},
          "y": {"field": "ty", "type": "quantitative", "scale": {"domain": [0, 30], "nice": false}},
          "text": {"field": "label"}
        }
      }
    ]
  }
]
}
